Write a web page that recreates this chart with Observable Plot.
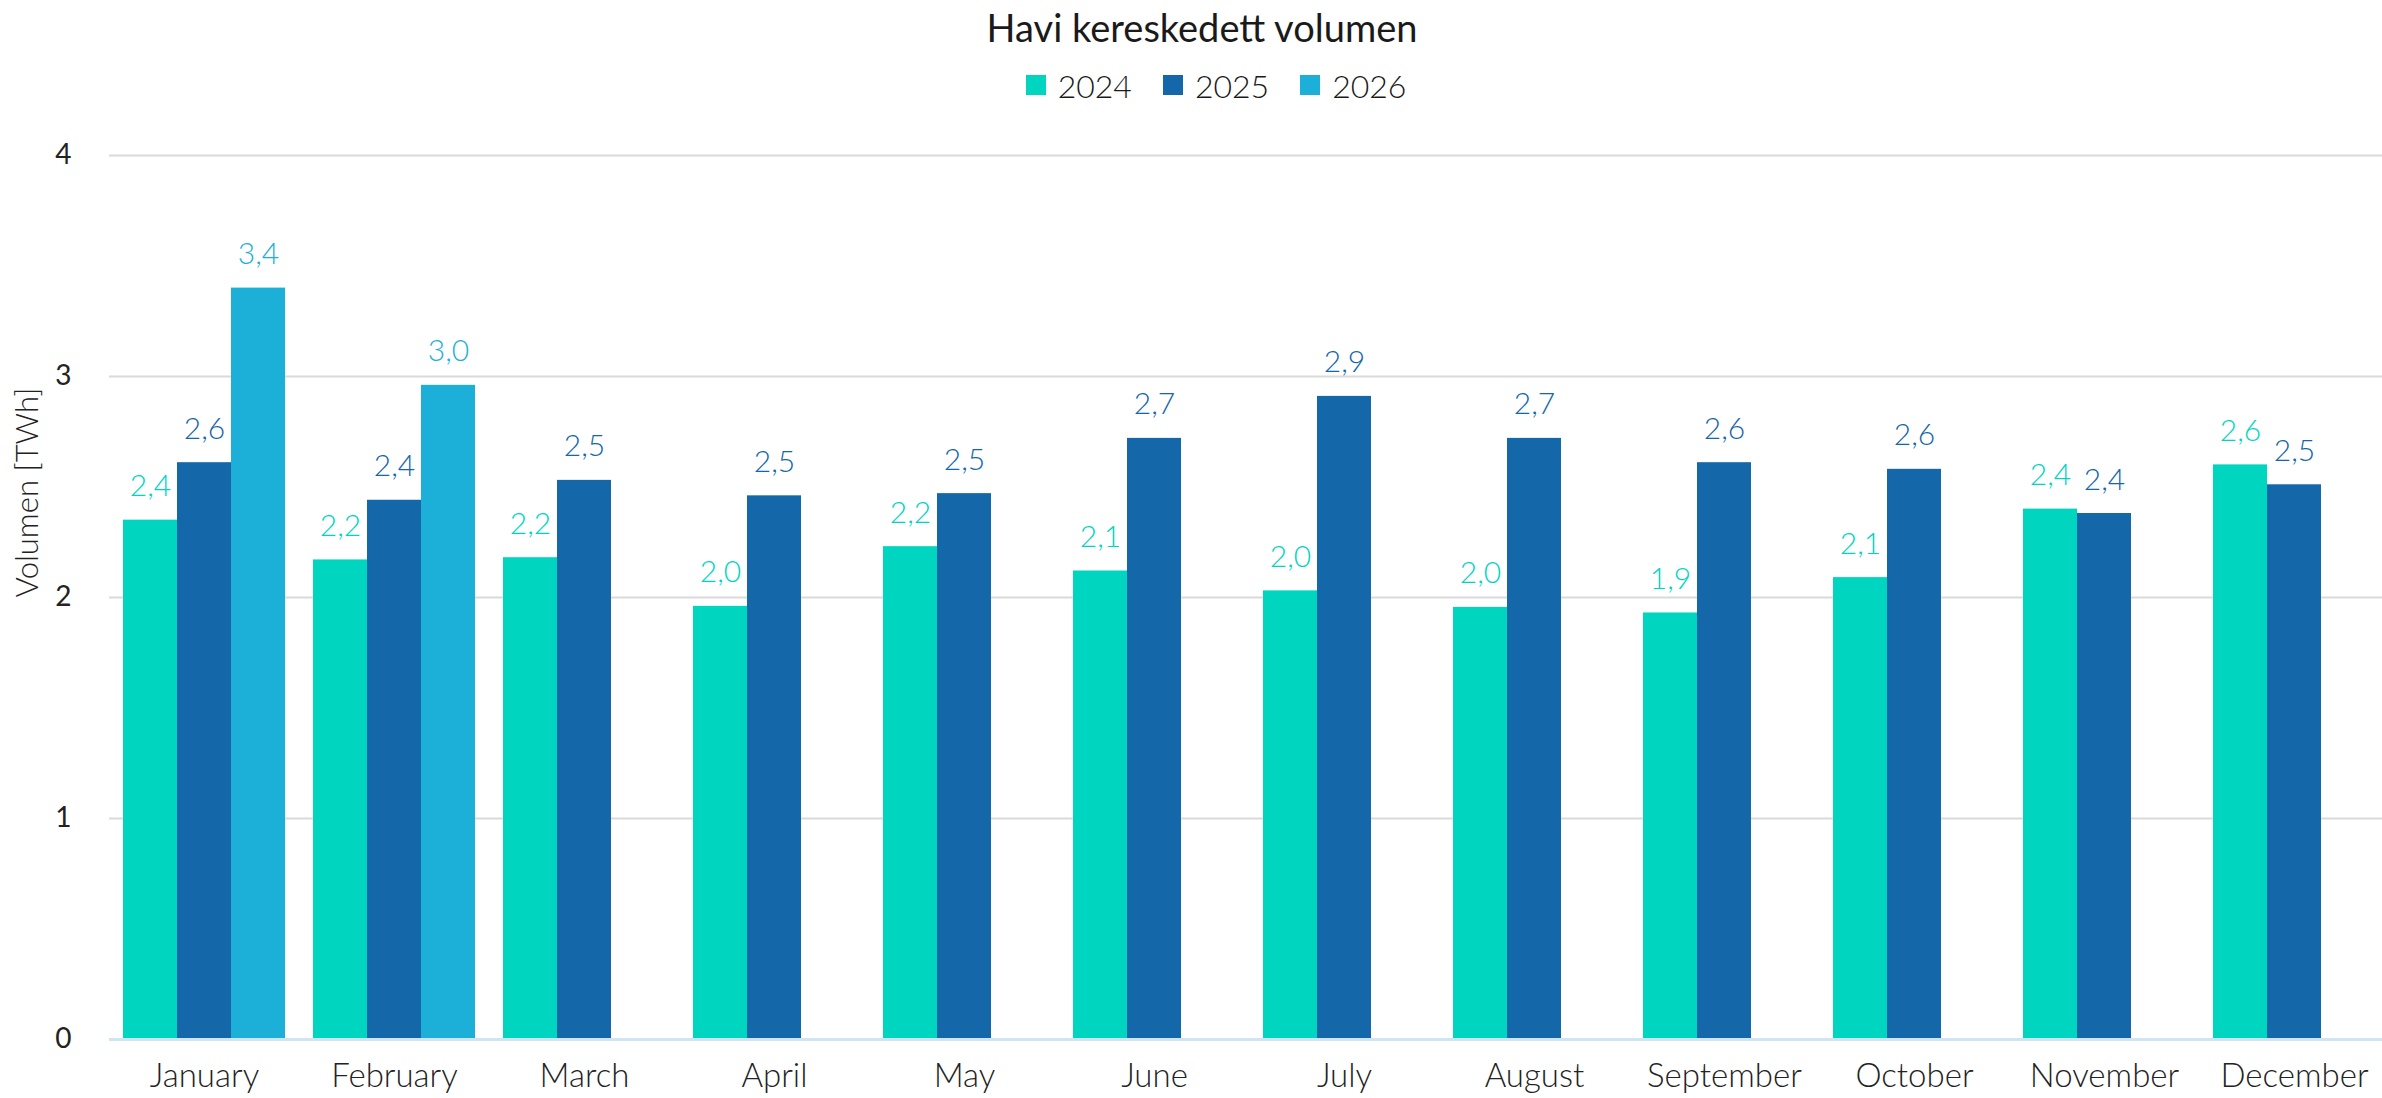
<!DOCTYPE html>
<html><head><meta charset="utf-8">
<script src="https://cdn.jsdelivr.net/npm/d3@7"></script>
<script src="https://cdn.jsdelivr.net/npm/@observablehq/plot@0.6"></script>
<style>
body{margin:0;background:#fff;font-family:Lato,sans-serif;width:2382px;height:1098px;overflow:hidden}
#title{height:55px;line-height:55px;text-align:center;font-size:38px;color:#1a1a1a;padding-left:22px;font-weight:400}
#legend{height:60px;display:flex;justify-content:center;align-items:center;gap:31px;font-size:32px;color:#1a1a1a;padding-left:50px;font-weight:300}
.item{display:flex;align-items:center;gap:12px}
.sw{width:20px;height:20px}
#chart svg{display:block}
</style></head><body>
<div id="title"></div>
<div id="legend"></div>
<div id="chart"></div>
<script>
const titleText = "Havi kereskedett volumen";
const yLabel = "Volumen [TWh]";
const months = ["January","February","March","April","May","June","July","August","September","October","November","December"];
const years = ["2024","2025","2026"];
const colors = ["#00D5C0","#1467A8","#1CAFD7"];
const v2024 = [2.35, 2.17, 2.18, 1.96, 2.23, 2.12, 2.03, 1.955, 1.93, 2.09, 2.40, 2.60];
const v2025 = [2.61, 2.44, 2.53, 2.46, 2.47, 2.72, 2.91, 2.72, 2.61, 2.58, 2.38, 2.51];
const v2026 = [3.40, 2.96];
const yTicks = [0, 1, 2, 3, 4];

document.getElementById("title").textContent = titleText;
const legend = document.getElementById("legend");
years.forEach((y, i) => {
  const it = document.createElement("div"); it.className = "item";
  const sw = document.createElement("div"); sw.className = "sw"; sw.style.background = colors[i];
  const t = document.createElement("span"); t.textContent = y;
  it.appendChild(sw); it.appendChild(t); legend.appendChild(it);
});

const series = [v2024, v2025, v2026];
const data = [];
months.forEach((m, i) => {
  series.forEach((arr, j) => {
    if (arr[i] != null) data.push({month: m, year: years[j], value: arr[i]});
  });
});
const fmt = v => v.toFixed(1).replace(".", ",");

const chart = Plot.plot({
  width: 2382, height: 983,
  marginLeft: 117, marginRight: 0, marginTop: 40, marginBottom: 59,
  style: {fontFamily: "Lato, sans-serif", background: "transparent", color: "#222"},
  fx: {domain: months, paddingInner: 0.146, paddingOuter: 0.03, label: null},
  x: {domain: years, padding: 0, axis: null},
  y: {domain: [0, 4], ticks: yTicks},
  color: {domain: years, range: colors},
  marks: [
    Plot.ruleY(yTicks.slice(1), {stroke: "#dadada", strokeWidth: 2, insetLeft: -14, insetRight: -14}),
    Plot.barY(data, {fx: "month", x: "year", y: "value", fill: "year"}),
    Plot.ruleY([0], {stroke: "#cfe4f5", strokeWidth: 3, insetLeft: -14, insetRight: -14}),
    Plot.text(data, {fx: "month", x: "year", y: "value", text: d => fmt(d.value), fill: "year", fontSize: 30, fontWeight: 300, lineAnchor: "bottom", dy: -24}),
    Plot.axisY({ticks: yTicks, tickSize: 0, tickPadding: 52, fontSize: 28, tickFormat: d3.format("d"), label: null}),
    Plot.text([yLabel], {fx: () => months[0], text: d => d, frameAnchor: "left", rotate: -90, dx: -95, fontSize: 31, fontWeight: 300, fill: "#222"}),
    Plot.axisFx({anchor: "bottom", tickSize: 0, tickPadding: 24, fontSize: 33, fontWeight: 300, label: null})
  ]
});
document.getElementById("chart").appendChild(chart);
</script>
</body></html>
